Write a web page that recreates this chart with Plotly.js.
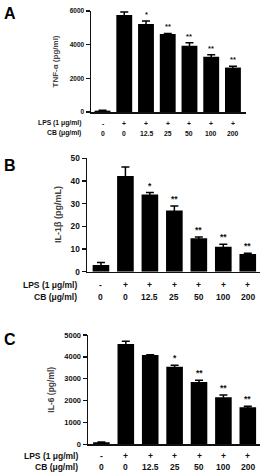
<!DOCTYPE html>
<html>
<head>
<meta charset="utf-8">
<script src="https://cdn.plot.ly/plotly-3.0.1.min.js"></script>
<style>html,body{margin:0;padding:0;background:#fff;}#chart{width:262px;height:474px;}</style>
</head>
<body>
<div id="chart"></div>
<script>
// ---- data ----
const lpsRow = ['-', '+', '+', '+', '+', '+', '+'];
const cbRow = ['0', '0', '12.5', '25', '50', '100', '200'];
const tnfValues = [80, 5760, 5230, 4630, 3930, 3280, 2640];
const tnfErrors = [20, 180, 175, 40, 180, 120, 80];
const tnfStars = ['', '', '*', '**', '**', '**', '**'];
const il1Values = [2.9, 42.2, 34.0, 27.0, 14.7, 11.0, 7.8];
const il1Errors = [1.2, 4.0, 0.9, 2.0, 0.6, 1.1, 0.3];
const il1Stars = ['', '', '*', '**', '**', '**', '**'];
const il6Values = [90, 4590, 4080, 3550, 2850, 2150, 1690];
const il6Errors = [10, 120, 20, 70, 75, 100, 55];
const il6Stars = ['', '', '', '*', '**', '**', '**'];
const tnfTicks = [0, 2000, 4000, 6000];
const il1Ticks = [0, 10, 20, 30, 40, 50];
const il6Ticks = [0, 1000, 2000, 3000, 4000, 5000];

const W = 262, H = 474;
const FAM = 'Liberation Sans, Arial, sans-serif';
const px = v => v / W;
const py = v => 1 - v / H;

const panels = [
  {letter: 'A', letterY: 14, vals: tnfValues, errs: tnfErrors, stars: tnfStars, ticks: tnfTicks,
   title: 'TNF-α (pg/ml)', titleX: 55, xl: 91, xr: 246, xrange: [-0.53, 6.6], y0: 112, y1: 11,
   yrange: [0, 6000], tickSize: 6.5, catSize: 6.8, row1: 123, row2: 133.5, bw: 0.73, titleSize: 8, starSize: 7.5},
  {letter: 'B', letterY: 165, vals: il1Values, errs: il1Errors, stars: il1Stars, ticks: il1Ticks,
   title: 'IL-1β (pg/mL)', titleX: 58, xl: 87, xr: 260, xrange: [-0.57, 6.5], y0: 271.7, y1: 158.3,
   yrange: [0, 50], tickSize: 8.3, catSize: 8.5, row1: 285, row2: 296.5, bw: 0.68, titleSize: 9, starSize: 8.5},
  {letter: 'C', letterY: 339, vals: il6Values, errs: il6Errors, stars: il6Stars, ticks: il6Ticks,
   title: 'IL-6 (pg/ml)', titleX: 51, xl: 88, xr: 260, xrange: [-0.55, 6.5], y0: 444.3, y1: 335,
   yrange: [0, 5000], tickSize: 7.5, catSize: 8.5, row1: 455.7, row2: 467.3, bw: 0.68, titleSize: 8.5, starSize: 8.5}
];

const data = [];
const layout = {
  width: W, height: H, margin: {l: 0, r: 0, t: 0, b: 0},
  paper_bgcolor: '#fff', plot_bgcolor: '#fff', showlegend: false,
  font: {family: FAM, color: '#111'},
  annotations: []
};

panels.forEach((p, k) => {
  const n = k === 0 ? '' : String(k + 1);
  const xa = 'x' + n, ya = 'y' + n;
  const xs = p.vals.map((_, i) => i);
  data.push({
    type: 'bar', x: xs, y: p.vals, xaxis: xa, yaxis: ya, width: p.bw,
    marker: {color: '#000', line: {width: 0}},
    error_y: {type: 'data', array: p.errs, symmetric: true, visible: true, color: '#000', thickness: 1.5, width: 4},
    cliponaxis: false, hoverinfo: 'skip'
  });
  layout['xaxis' + n] = {
    domain: [px(p.xl), px(p.xr)], range: p.xrange, anchor: ya,
    showline: true, linecolor: '#111', linewidth: 1.5, ticks: '', showticklabels: false,
    showgrid: false, zeroline: false, fixedrange: true
  };
  layout['yaxis' + n] = {
    domain: [py(p.y0), py(p.y1)], range: p.yrange, anchor: xa,
    showline: true, linecolor: '#111', linewidth: 1.5, ticks: 'outside', ticklen: 4, tickwidth: 1.5,
    tickcolor: '#111', tickvals: p.ticks, ticktext: p.ticks.map(String),
    tickfont: {family: FAM, size: p.tickSize, weight: 'bold', color: '#111'},
    showgrid: false, zeroline: false, fixedrange: true
  };
  layout.annotations.push({xref: 'paper', yref: 'paper', x: px(2), y: py(p.letterY), xanchor: 'left', yanchor: 'middle',
    text: p.letter, showarrow: false, font: {family: FAM, size: 16, weight: 'bold', color: '#000'}});
  layout.annotations.push({xref: 'paper', yref: 'paper', x: px(p.titleX), y: (py(p.y0) + py(p.y1)) / 2,
    xanchor: 'center', yanchor: 'middle', textangle: -90, text: p.title, showarrow: false,
    font: {family: FAM, size: p.titleSize, weight: 'bold', color: '#444'}});
  layout.annotations.push({xref: 'paper', yref: 'paper', x: px(p.xl - 8), y: py(p.row1), xanchor: 'right', yanchor: 'middle',
    text: 'LPS (1 μg/ml)', showarrow: false, font: {family: FAM, size: p.catSize, weight: 'bold', color: '#111'}});
  layout.annotations.push({xref: 'paper', yref: 'paper', x: px(p.xl - 8), y: py(p.row2), xanchor: 'right', yanchor: 'middle',
    text: 'CB (μg/ml)', showarrow: false, font: {family: FAM, size: p.catSize, weight: 'bold', color: '#111'}});
  xs.forEach(i => {
    layout.annotations.push({xref: xa, yref: 'paper', x: i, y: py(p.row1), xanchor: 'center', yanchor: 'middle',
      text: lpsRow[i], showarrow: false, font: {family: FAM, size: p.catSize, weight: 'bold', color: '#111'}});
    layout.annotations.push({xref: xa, yref: 'paper', x: i, y: py(p.row2), xanchor: 'center', yanchor: 'middle',
      text: cbRow[i], showarrow: false, font: {family: FAM, size: p.catSize, weight: 'bold', color: '#111'}});
    if (p.stars[i]) {
      layout.annotations.push({xref: xa, yref: ya, x: i, y: p.vals[i] + p.errs[i], xanchor: 'center', yanchor: 'bottom',
        yshift: 0, text: p.stars[i], showarrow: false, font: {family: FAM, size: p.starSize, weight: 'bold', color: '#111'}});
    }
  });
});

Plotly.newPlot('chart', data, layout, {staticPlot: true, displayModeBar: false});
</script>
</body>
</html>
